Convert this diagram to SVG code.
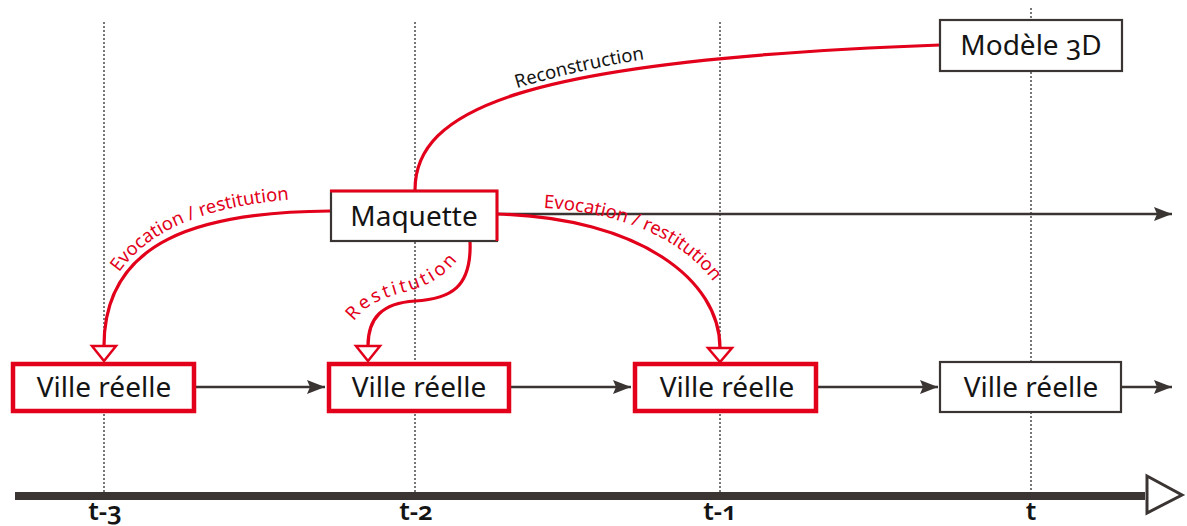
<svg xmlns="http://www.w3.org/2000/svg" width="1187" height="526" viewBox="0 0 1187 526">
<style>
text{font-family:"Noto Sans","Open Sans",sans-serif;font-variant-numeric:oldstyle-nums;}
.node{font-size:28px;fill:#141414;text-anchor:middle;}
.lbl{font-size:18.5px;fill:#e2001a;}
.lblk{font-size:18.5px;fill:#141414;}
.tick{font-size:26px;fill:#141414;text-anchor:middle;font-weight:600;}
.dot{stroke:#555;stroke-width:1.6;stroke-dasharray:2 2;fill:none;}
.blk{stroke:#3a3432;stroke-width:2.5;fill:none;}
.red{stroke:#e2001a;stroke-width:3.2;fill:none;}
.rbox{fill:#fff;stroke:#e2001a;stroke-width:4.5;}
.kbox{fill:#fff;stroke:#3a3432;stroke-width:2.2;}
</style>
<defs>
<marker id="ah" viewBox="0 0 18 14" refX="18" refY="7" markerWidth="18" markerHeight="14" markerUnits="userSpaceOnUse" orient="auto">
<path d="M0,0 L18,7 L0,14 L3,7 Z" fill="#3a3432"/>
</marker>
<path id="pL" d="M106,296 C136,228 210,203 316,198"/>
<path id="pR" d="M524,207 C630,209 696,246 724,298"/>
<path id="pS" d="M349,330 C360,306 382,298 405,292 C430,286 452,272 464,250"/>
<path id="pC" d="M502,93 Q580,68 660,57"/>
</defs>
<rect width="1187" height="526" fill="#fff"/>
<g id="grid">
<line class="dot" x1="104" y1="22" x2="104" y2="492"/>
<line class="dot" x1="415" y1="22" x2="415" y2="492"/>
<line class="dot" x1="720" y1="22" x2="720" y2="492"/>
<line class="dot" x1="1031" y1="8" x2="1031" y2="492"/>
</g>
<g id="axis">
<line x1="15" y1="496" x2="1145" y2="496" stroke="#3a3432" stroke-width="8"/>
<path d="M1147,476 L1182,495 L1147,513 Z" fill="#fff" stroke="#3a3432" stroke-width="3"/>
<text class="tick" x="105" y="520">t-3</text>
<text class="tick" x="416" y="520">t-2</text>
<text class="tick" x="720" y="520">t-1</text>
<text class="tick" x="1031" y="520">t</text>
</g>
<g id="connectors">
<line class="blk" x1="196" y1="387" x2="325" y2="387" marker-end="url(#ah)"/>
<line class="blk" x1="511" y1="387" x2="631" y2="387" marker-end="url(#ah)"/>
<line class="blk" x1="818" y1="387" x2="938" y2="387" marker-end="url(#ah)"/>
<line class="blk" x1="1122" y1="387" x2="1172" y2="387" marker-end="url(#ah)"/>
<line class="blk" x1="497" y1="214" x2="1172" y2="214" marker-end="url(#ah)"/>
<path class="red" d="M415,190 C415,110 520,60 940,45"/>
<path class="red" d="M330,211 C200,212 104,240 104,346"/>
<path class="red" d="M470,241 C472,288 450,299 415,301 C382,303 368,318 368,346"/>
<path class="red" d="M497,214 C640,218 720,280 720,348"/>
<path d="M92,346 L116,346 L104,361 Z" fill="#fff" stroke="#e2001a" stroke-width="2.5"/>
<path d="M356,346 L380,346 L368,361 Z" fill="#fff" stroke="#e2001a" stroke-width="2.5"/>
<path d="M708,348 L732,348 L720,362 Z" fill="#fff" stroke="#e2001a" stroke-width="2.5"/>
<text class="lbl"><textPath href="#pL" startOffset="50%" text-anchor="middle">Evocation / restitution</textPath></text>
<text class="lbl"><textPath href="#pR" startOffset="50%" text-anchor="middle">Evocation / restitution</textPath></text>
<text class="lbl" letter-spacing="2.8"><textPath href="#pS" startOffset="50%" text-anchor="middle">Restitution</textPath></text>
<text class="lblk"><textPath href="#pC" startOffset="50%" text-anchor="middle">Reconstruction</textPath></text>
</g>
<g id="modele3d">
<rect class="kbox" x="940" y="20" width="182" height="51"/>
<text class="node" x="1031" y="55">Modèle 3D</text>
</g>
<g id="maquette">
<rect class="kbox" x="331" y="191" width="166" height="50"/>
<path d="M330,191 H497 V241" fill="none" stroke="#e2001a" stroke-width="3"/>
<text class="node" x="414" y="226">Maquette</text>
</g>
<g id="ville1">
<rect class="rbox" x="13" y="364" width="181" height="47"/>
<text class="node" x="104" y="397">Ville réelle</text>
</g>
<g id="ville2">
<rect class="rbox" x="329" y="364" width="180" height="47"/>
<text class="node" x="419" y="397">Ville réelle</text>
</g>
<g id="ville3">
<rect class="rbox" x="635" y="364" width="181" height="47"/>
<text class="node" x="727" y="397">Ville réelle</text>
</g>
<g id="ville4">
<rect class="kbox" x="940" y="362" width="181" height="50"/>
<text class="node" x="1031" y="397">Ville réelle</text>
</g>
</svg>
